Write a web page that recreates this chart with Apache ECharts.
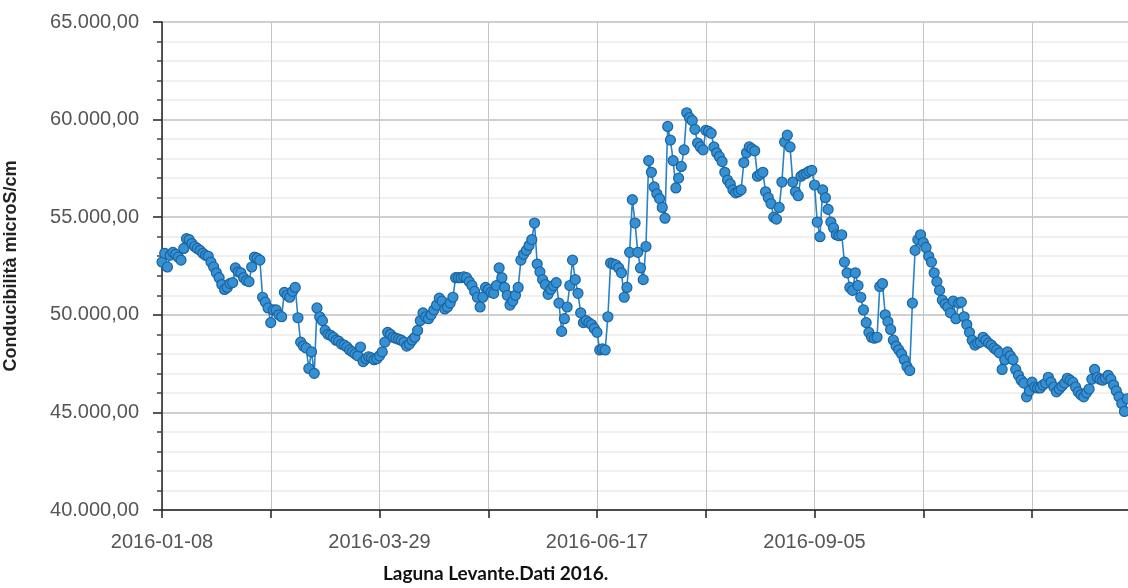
<!DOCTYPE html>
<html>
<head>
<meta charset="utf-8">
<script src="https://cdn.jsdelivr.net/npm/echarts@6/dist/echarts.min.js"></script>
<style>
  html, body { margin: 0; padding: 0; background: #ffffff; }
  #chart { width: 1128px; height: 588px; }
</style>
</head>
<body>
<div id="chart"></div>
<script>
// Daily conductivity readings, Laguna Levante, from 2016-01-08 (day 0)
const startDate = '2016-01-08';
const conductivity = [
  52700, 53150, 52450, 53050, 53200, 53100, 52950, 52800, 53400, 53900,
  53850, 53650, 53500, 53400, 53300, 53150, 53050, 53000, 52700, 52450,
  52150, 51900, 51550, 51300, 51400, 51600, 51650, 52400, 52200, 52150,
  51900, 51750, 51700, 52450, 52950, 52900, 52800, 50900, 50650, 50350,
  49600, 50250, 50250, 50000, 49900, 51150, 51000, 50900, 51200, 51400,
  49850, 48600, 48400, 48300, 47250, 48100, 47000, 50350, 49900, 49700,
  49200, 49000, 48950, 48850, 48700, 48650, 48500, 48450, 48350, 48200,
  48100, 48000, 47900, 48350, 47600, 47750, 47850, 47800, 47700, 47750,
  47900, 48100, 48600, 49100, 49000, 48850, 48800, 48750, 48700, 48600,
  48400, 48500, 48700, 48850, 49200, 49700, 50100, 49900, 49800, 50000,
  50250, 50500, 50850, 50700, 50300, 50400, 50600, 50900, 51900, 51900,
  51900, 51950, 51900, 51700, 51500, 51200, 50900, 50400, 50900, 51400,
  51300, 51150, 51100, 51500, 52400, 51900, 51400, 51000, 50500, 50700,
  51000, 51400, 52800, 53100, 53300, 53550, 53850, 54700, 52600, 52200,
  51800, 51550, 51050, 51300, 51500, 51650, 50600, 49150, 49800, 50400,
  51500, 52800, 51800, 51100, 50100, 49600, 49700, 49600, 49500, 49300,
  49100, 48200, 48250, 48200, 49900, 52650, 52600, 52550, 52400, 52150,
  50900, 51400, 53200, 55900, 54700, 53200, 52400, 51800, 53500, 57900,
  57300, 56550, 56200, 55950, 55500, 54950, 59650, 58950, 57900, 56500,
  57000, 57600, 58450, 60350, 60100, 59950, 59500, 58800, 58600, 58450,
  59450, 59400, 59300, 58600, 58300, 58100, 57850, 57300, 56900, 56700,
  56400, 56250, 56300, 56400, 57800, 58300, 58600, 58500, 58400, 57100,
  57200, 57300, 56300, 56000, 55700, 55000, 54900, 55500, 56800, 58850,
  59200, 58600, 56800, 56300, 56100, 57100, 57200, 57250, 57350, 57400,
  56650, 54750, 54000, 56400, 56000, 55400, 54750, 54450, 54100, 54050,
  54100, 52700, 52150, 51400, 51250, 52150, 51500, 50900, 50250, 49600,
  49100, 48850, 48800, 48850, 51450, 51600, 50000, 49650, 49250, 48700,
  48400, 48200, 48000, 47700, 47350, 47150, 50600, 53300, 53850, 54100,
  53700, 53450, 53000, 52700, 52150, 51700, 51250, 50750, 50550, 50400,
  50100, 50700, 49800, 50600, 50650, 49900, 49500, 49100, 48700, 48450,
  48550, 48600, 48850, 48700, 48550, 48450, 48300, 48200, 48050, 47200,
  47700, 48100, 47900, 47700, 47200, 46900, 46650, 46500, 45800, 46100,
  46550, 46300, 46250, 46250, 46400, 46500, 46800, 46550, 46300, 46050,
  46200, 46350, 46500, 46750, 46650, 46550, 46300, 46050, 45900, 45800,
  46000, 46200, 46700, 47200, 46800, 46700, 46650, 46750, 46900, 46700,
  46400, 46100, 45800, 45450, 45050, 45700
];
// Labelled x ticks (day offset -> date text)
const xTickDays = [0, 80, 160, 240];
const xTickLabels = ['2016-01-08', '2016-03-29', '2016-06-17', '2016-09-05'];

const seriesData = conductivity.map((v, i) => [i, v]);

function itNumber(v) {
  const s = Math.round(v).toString().replace(/\B(?=(\d{3})+(?!\d))/g, '.');
  return s + ',00';
}

const chart = echarts.init(document.getElementById('chart'), null, { renderer: 'canvas' });
chart.setOption({
  animation: false,
  backgroundColor: '#ffffff',
  title: {
    text: 'Laguna Levante.Dati 2016.',
    left: 378,
    top: 559,
    padding: 5,
    textStyle: { fontFamily: 'Lato', fontWeight: 'bold', fontSize: 19, color: '#111111' }
  },
  grid: { left: 162, right: 0, top: 22, bottom: 78, containLabel: false, outerBoundsMode: 'none' },
  xAxis: {
    type: 'value',
    min: 0,
    max: 355.3,
    interval: 40,
    axisLine: { show: true, onZero: false, lineStyle: { color: '#222222', width: 1.5 } },
    axisTick: { show: true, inside: false, length: 8, lineStyle: { color: '#222222', width: 1.5 } },
    axisLabel: {
      margin: 22,
      fontFamily: 'Liberation Sans',
      fontSize: 20,
      color: '#555555',
      showMaxLabel: false,
      formatter: v => {
        const k = xTickDays.indexOf(Math.round(v));
        return k >= 0 ? xTickLabels[k] : '';
      }
    },
    splitLine: { show: true, lineStyle: { color: '#c4c4c4', width: 1 } }
  },
  yAxis: {
    type: 'value',
    min: 40000,
    max: 65000,
    interval: 5000,
    name: 'Conducibilità microS/cm',
    nameLocation: 'middle',
    nameGap: 142,
    nameRotate: 90,
    nameTextStyle: { fontFamily: 'Liberation Sans', fontWeight: 'bold', fontSize: 18, color: '#222222', padding: [0, 0, 0, 0] },
    axisLine: { show: true, lineStyle: { color: '#222222', width: 1.5 } },
    axisTick: { show: true, inside: false, length: 9, lineStyle: { color: '#222222', width: 1.5 } },
    minorTick: { show: true, splitNumber: 5, length: 5, lineStyle: { color: '#444444', width: 1.5 } },
    axisLabel: {
      margin: 23,
      fontFamily: 'Liberation Sans',
      fontSize: 20,
      color: '#555555',
      formatter: v => itNumber(v)
    },
    splitLine: { show: true, lineStyle: { color: '#cfcfcf', width: 2 } },
    minorSplitLine: { show: true, lineStyle: { color: '#ebebeb', width: 1.5 } }
  },
  series: [{
    type: 'line',
    data: seriesData,
    symbol: 'circle',
    symbolSize: 10,
    showAllSymbol: true,
    lineStyle: { color: '#2a82c6', width: 1.6 },
    itemStyle: { color: '#3590d4', borderColor: '#1c649f', borderWidth: 1.2 },
    z: 3
  }]
});
</script>
</body>
</html>
